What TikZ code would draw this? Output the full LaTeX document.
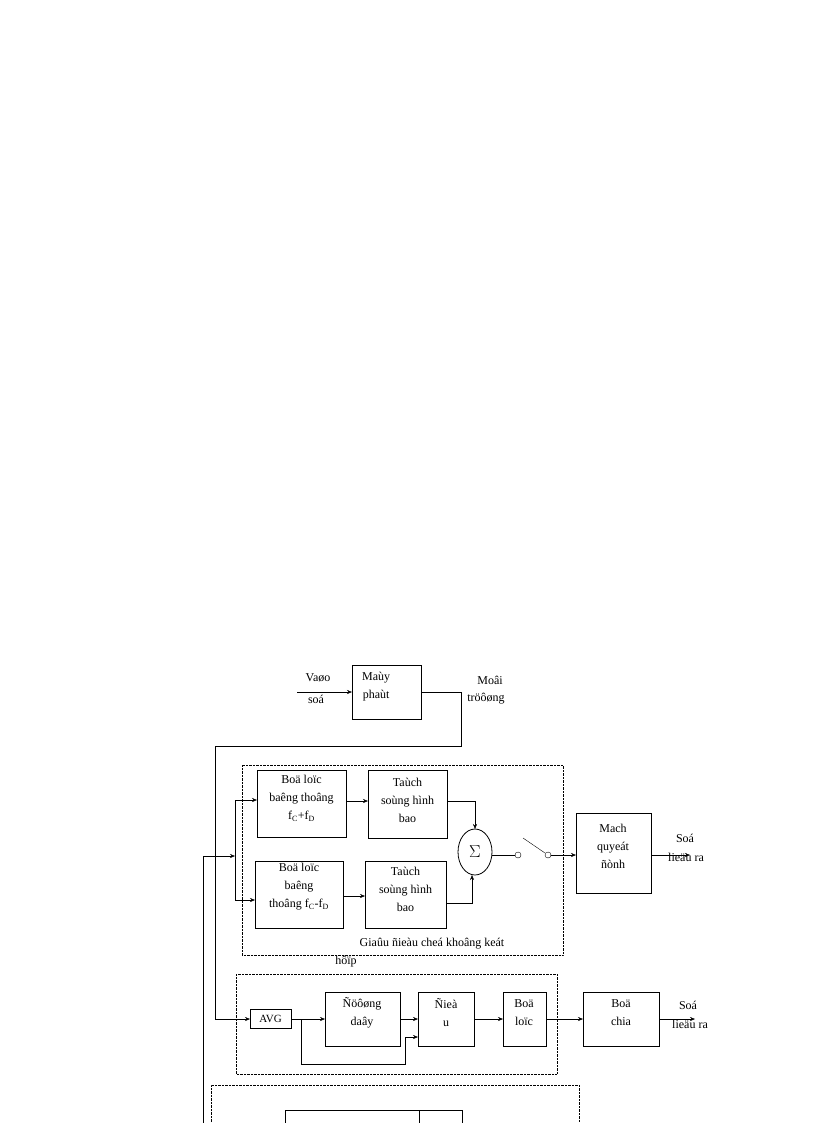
\documentclass[tikz,border=0pt]{standalone}
\usepackage{fontspec}
\setmainfont{Liberation Serif}
\usetikzlibrary{arrows.meta}
\begin{document}
\begin{tikzpicture}[x=1pt,y=-1pt,
 blk/.style={draw,thick,inner sep=0pt},
 txt/.style={font=\fontsize{12}{18}\selectfont,align=center,inner sep=0pt},
 dbox/.style={draw,densely dotted},
 ar/.style={-{Stealth[length=5pt,width=4pt]}}]
\useasboundingbox (0,0) rectangle (816,1123);
% top
\draw[blk] (352,665) rectangle (421,719);
\node[txt,anchor=north west] (may) at (362,672) {Maùy\\phaùt};
\coordinate (mayin) at (352,692);
\coordinate (inp) at (297,692);
\draw[ar] (inp) -- (mayin);
\node[txt] (vao) at (318,678) {Vaøo};
\node[txt] (so) at (316,699) {soá};
\node[txt] (moi) at (490,680) {Moâi};
\node[txt] (tr) at (486,699) {tröôøng};
\coordinate (a1) at (421,692);
\coordinate (a2) at (215,1019);
\draw (a1) -- (461,692) -- (461,746) -- (215,746) -- (a2);
% group 1
\draw[dbox] (242,765) rectangle (563,955);
\draw[blk] (257,770) rectangle (346,837); \node[txt] (bp1) at (301.5,798) {Boä loïc\\baêng thoâng\\f$_\mathrm{C}$+f$_\mathrm{D}$};
\draw[blk] (368,770) rectangle (447,838); \node[txt] (t1) at (407.5,800) {Taùch\\soùng hình\\bao};
\draw[blk] (255,861) rectangle (343,928); \node[txt] (bp2) at (299,887) {Boä loïc\\baêng\\thoâng f$_\mathrm{C}$-f$_\mathrm{D}$};
\draw[blk] (365,861) rectangle (446,928); \node[txt] (t2) at (405.5,889) {Taùch\\soùng hình\\bao};
\draw[thick] (475,852) ellipse [x radius=17,y radius=23];
\node[font=\fontsize{16}{16}\selectfont] (sig) at (475,852) {$\Sigma$};
\draw[ar] (447,801) -- (475,801) -- (475,829);
\draw[ar] (446,903) -- (472,903) -- (472,875);
\draw[ar] (346,801) -- (368,801);
\draw[ar] (343,896) -- (365,896);
\draw (203,1123) -- (203,856);
\draw[ar] (203,856) -- (235,856);
\draw (235,800) -- (235,900);
\draw[ar] (235,800) -- (257,800);
\draw[ar] (235,900) -- (255,900);
\draw (492,855) -- (515,855);
\draw (518,855) circle (3);
\draw (548,855) circle (3);
\draw (523,838) -- (545,853);
\draw[blk] (576,813) rectangle (651,893); \node[txt] (mach) at (613,846) {Mach\\quyeát\\ñònh};
\draw[ar] (551,855) -- (576,855);
\draw[ar] (651,855) -- (690,855);
\node[txt] (so1) at (685,838) {Soá};
\node[txt] (li1) at (686,857) {lieäu ra};
\node[txt] (cap) at (432,944) {Giaûu ñieàu cheá khoâng keát};
\node[txt] (cap2) at (346,962) {hôïp};
% group 2
\draw[dbox] (236,974) rectangle (557,1074);
\draw[blk] (250,1009) rectangle (291,1028); \node[font=\fontsize{11}{11}\selectfont] (avg) at (270.5,1019) {AVG};
\draw[ar] (215,1019) -- (250,1019);
\draw[blk] (325,992) rectangle (400,1046); \node[txt] (dd) at (362,1013) {Ñöôøng\\daây};
\draw[blk] (418,992) rectangle (474,1046); \node[txt] (di) at (446,1013) {Ñieà\\u};
\draw[blk] (503,992) rectangle (546,1046); \node[txt] (bl) at (524,1013) {Boä\\loïc};
\draw[blk] (583,992) rectangle (659,1046); \node[txt] (bc) at (621,1013) {Boä\\chia};
\draw[ar] (291,1019) -- (325,1019);
\draw[ar] (301,1019) -- (301,1064) -- (405,1064) -- (405,1037) -- (418,1037);
\draw[ar] (400,1019) -- (418,1019);
\draw[ar] (474,1019) -- (503,1019);
\draw[ar] (546,1019) -- (583,1019);
\draw[ar] (659,1019) -- (695,1019);
\node[txt] (so2) at (688,1005) {Soá};
\node[txt] (li2) at (690,1024) {lieäu ra};
% group 3
\draw[dbox] (579,1123) -- (579,1085) -- (211,1085) -- (211,1123);
\draw[blk] (285,1123) -- (285,1110) -- (462,1110) -- (462,1123);
\draw[thick] (419,1110) -- (419,1123);
\end{tikzpicture}
\end{document}
